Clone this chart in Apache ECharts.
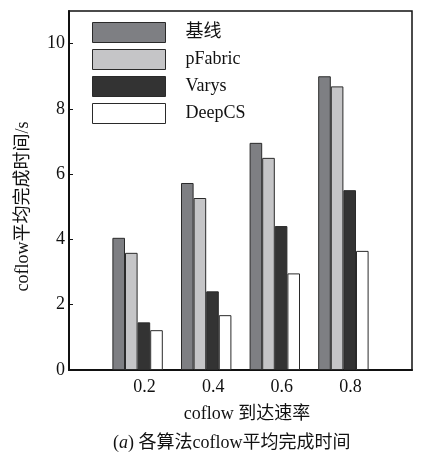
<!DOCTYPE html>
<html>
<head>
<meta charset="utf-8">
<script src="https://cdn.jsdelivr.net/npm/echarts@6/dist/echarts.min.js"></script>
<style>html,body{margin:0;padding:0;background:#fff}#c{width:425px;height:454px}</style>
</head>
<body>
<div id="c"></div>
<script>
var categories = ['0.2', '0.4', '0.6', '0.8'];
var seriesNames = ['基线', 'pFabric', 'Varys', 'DeepCS'];
var baseline = [4.05, 5.73, 6.96, 9.0];
var pfabric = [3.59, 5.27, 6.50, 8.69];
var varys = [1.46, 2.41, 4.41, 5.51];
var deepcs = [1.22, 1.68, 2.96, 3.65];
var yTicks = [0, 2, 4, 6, 8, 10];

var colors = ['#7e7f83', '#c5c5c7', '#333333', '#ffffff'];
var values = [baseline, pfabric, varys, deepcs];
var serif = 'Liberation Serif, "Noto Sans CJK SC", serif';

var axisData = [''].concat(categories, ['']);
var series = seriesNames.map(function (n, i) {
  return {
    name: n,
    type: 'bar',
    barWidth: 12.6,
    barGap: '0%',
    data: [null].concat(values[i], [null]),
    itemStyle: { color: colors[i], borderColor: '#2a2a2a', borderWidth: 1 }
  };
});

var chart = echarts.init(document.getElementById('c'));
chart.setOption({
  animation: false,
  backgroundColor: '#fff',
  textStyle: { fontFamily: serif },
  grid: { left: 69, right: 13, top: 11, bottom: 84, show: true, borderColor: '#111', borderWidth: 1.5, backgroundColor: 'transparent' },
  legend: {
    orient: 'vertical', left: 92, top: 22, padding: 0, itemWidth: 73, itemHeight: 20, itemGap: 6,
    icon: 'rect',
    itemStyle: { borderWidth: 1, borderColor: '#2a2a2a' },
    textStyle: { fontFamily: serif, fontSize: 18, color: '#111', padding: [0, 0, 0, 15] },
    data: seriesNames
  },
  xAxis: {
    type: 'category', data: axisData, boundaryGap: false,
    axisLine: { lineStyle: { color: '#111', width: 2 } },
    axisTick: { show: false },
    axisLabel: { interval: 0, fontSize: 18, color: '#111', margin: 8, padding: [0, 0, 0, 14], fontFamily: serif },
    name: 'coflow 到达速率', nameLocation: 'middle', nameGap: 35,
    nameTextStyle: { fontSize: 18, color: '#111', fontFamily: serif, padding: [0, 0, 0, 13] }
  },
  yAxis: {
    type: 'value', min: yTicks[0], max: 11, interval: yTicks[1] - yTicks[0],
    splitLine: { show: false },
    axisLine: { show: true, lineStyle: { color: '#111', width: 2 } },
    axisTick: { show: true, inside: true, length: 4, lineStyle: { color: '#111' } },
    axisLabel: { fontSize: 18, color: '#111', margin: 4, fontFamily: serif, showMaxLabel: false,
      formatter: function (v) { return yTicks.indexOf(v) >= 0 ? String(v) : ''; } },
    name: 'coflow平均完成时间/s', nameLocation: 'middle', nameGap: 37,
    nameTextStyle: { fontSize: 18, color: '#111', fontFamily: serif, padding: [0, 32, 0, 0] }
  },
  graphic: [{
    type: 'text', left: 113, top: 434,
    style: {
      text: '({i|a}) 各算法coflow平均完成时间',
      font: '18px ' + serif, fill: '#111',
      rich: { i: { fontStyle: 'italic', fontSize: 18, fontFamily: serif, fill: '#111' } }
    }
  }],
  series: series
});
</script>
</body>
</html>
